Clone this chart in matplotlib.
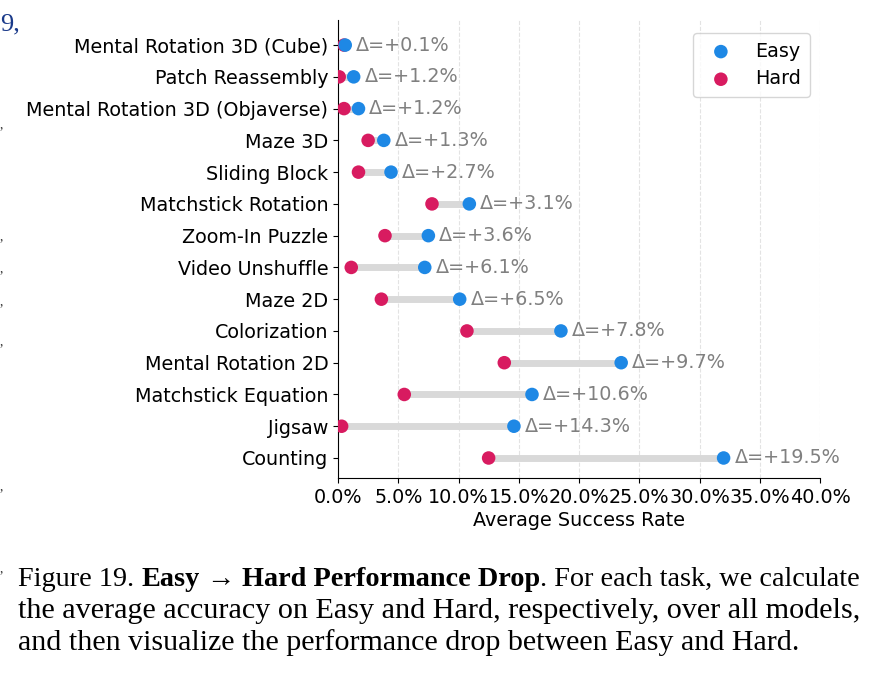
import matplotlib
matplotlib.use("Agg")
import matplotlib.pyplot as plt
import numpy as np

plt.rcParams["font.family"] = ["DejaVu Sans"]

tasks = ["Mental Rotation 3D (Cube)", "Patch Reassembly", "Mental Rotation 3D (Objaverse)",
         "Maze 3D", "Sliding Block", "Matchstick Rotation", "Zoom-In Puzzle",
         "Video Unshuffle", "Maze 2D", "Colorization", "Mental Rotation 2D",
         "Matchstick Equation", "Jigsaw", "Counting"]
easy = [0.6, 1.3, 1.7, 3.8, 4.4, 10.9, 7.5, 7.2, 10.1, 18.5, 23.5, 16.1, 14.6, 32.0]
hard = [0.5, 0.1, 0.5, 2.5, 1.7, 7.8, 3.9, 1.1, 3.6, 10.7, 13.8, 5.5, 0.3, 12.5]
deltas = ["+0.1", "+1.2", "+1.2", "+1.3", "+2.7", "+3.1", "+3.6",
          "+6.1", "+6.5", "+7.8", "+9.7", "+10.6", "+14.3", "+19.5"]
xticks = [0, 5, 10, 15, 20, 25, 30, 35, 40]

W, H = 877, 673
fig = plt.figure(figsize=(W / 100, H / 100), dpi=100)
ax = fig.add_axes([338 / W, (H - 478) / H, 482 / W, 458 / H])

EASY_C = "#1E88E5"
HARD_C = "#D81B60"
FS = 13.8
y = np.arange(len(tasks))

ax.hlines(y, hard, easy, color="#d9d9d9", lw=5, zorder=1)
ax.scatter(hard, y, s=95, color=HARD_C, zorder=3, label="Hard", edgecolors="none")
ax.scatter(easy, y, s=95, color=EASY_C, zorder=3, label="Easy", edgecolors="none")
for yi, e, h, d in zip(y, easy, hard, deltas):
    ax.text(max(e, h) + 0.9, yi, "Δ=" + d + "%", va="center", ha="left",
            fontsize=FS, color="#808080")

ax.set_yticks(y)
ax.set_yticklabels(tasks, fontsize=FS)
ax.set_ylim(13.63, -0.79)
ax.set_xlim(0, 40)
ax.set_xticks(xticks)
ax.set_xticklabels([f"{v:.1f}%" for v in xticks], fontsize=FS)
ax.set_xlabel("Average Success Rate", fontsize=FS, labelpad=3)
ax.grid(axis="x", linestyle="--", color="#e3e3e3", lw=0.8, zorder=0)
ax.set_axisbelow(True)
for s in ["top", "right"]:
    ax.spines[s].set_visible(False)

handles, labels = ax.get_legend_handles_labels()
ax.legend([handles[1], handles[0]], [labels[1], labels[0]], loc="upper right",
          fontsize=FS, frameon=True, borderpad=0.45, handletextpad=0.8,
          borderaxespad=0, labelspacing=0.45,
          bbox_to_anchor=(0.979, 0.9716))

# caption
renderer = fig.canvas.get_renderer()
fam = ["Liberation Serif", "DejaVu Serif"]
def write_line(pieces, x0, yb, fs):
    x = x0
    for txt, bold in pieces:
        t = fig.text(x / W, 1 - yb / H, txt, fontsize=fs, family=fam,
                     weight="bold" if bold else "normal", va="baseline", ha="left")
        bb = t.get_window_extent(renderer)
        x += bb.width
write_line([("Figure 19. ", False), ("Easy", True), (" → ", False),
            ("Hard Performance Drop", True), (". For each task, we calculate", False)], 18, 586, 20.3)
write_line([("the average accuracy on Easy and Hard, respectively, over all models,", False)], 18, 618, 21.7)
write_line([("and then visualize the performance drop between Easy and Hard.", False)], 18, 650, 21.6)

fig.text(0, 1 - 30 / H, "9,", fontsize=19, family=fam, color="#1a3a8a", va="baseline")
for yy in [128, 240, 272, 305, 345, 490, 572]:
    fig.text(0, 1 - yy / H, ",", fontsize=10, family=fam, color="#333333", va="baseline")

fig.savefig("out.png", dpi=100)
